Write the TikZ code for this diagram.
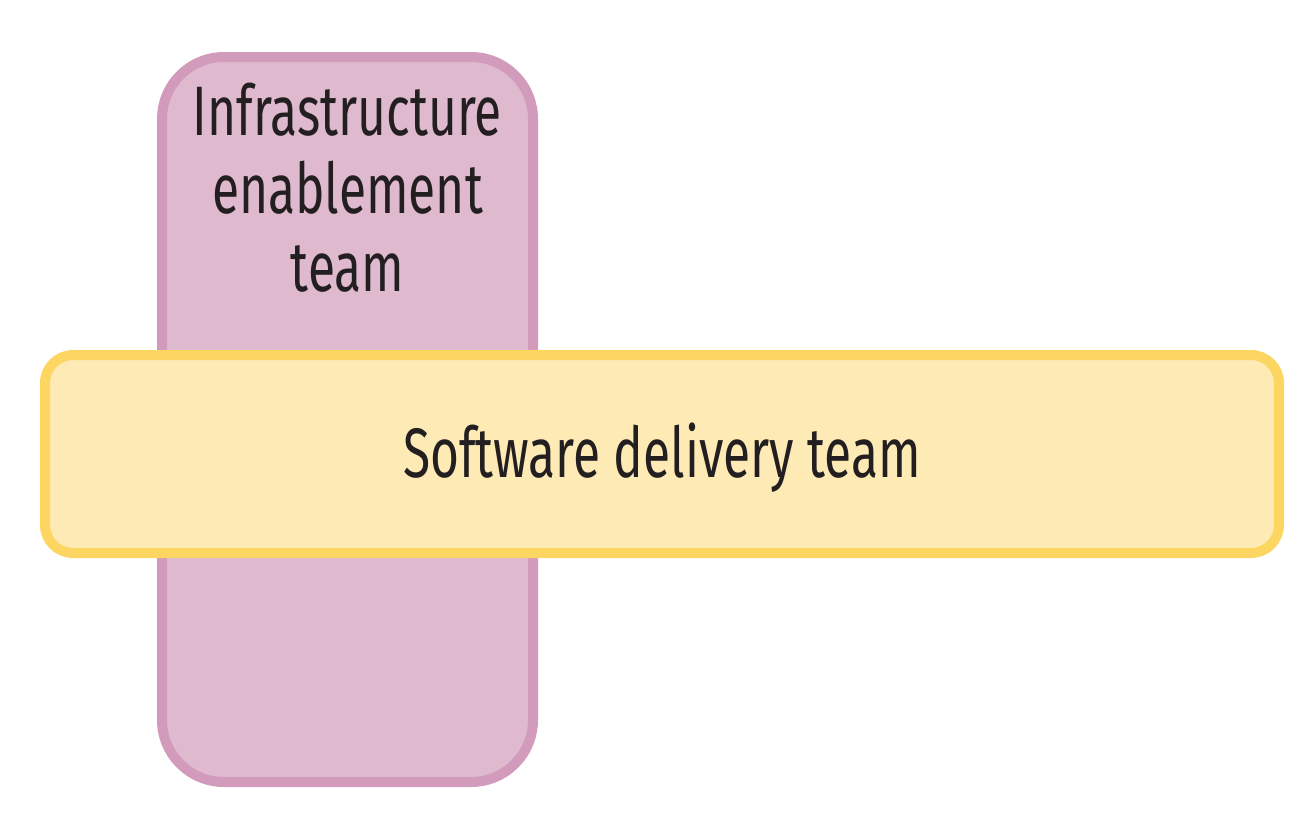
\documentclass[tikz,border=0pt]{standalone}
\usepackage{fontspec}
\setmainfont{Fira Sans}[FakeStretch=0.71]
\usetikzlibrary{positioning}

\definecolor{infrafill}{HTML}{DFBACF}
\definecolor{infraline}{HTML}{D29BBC}
\definecolor{swfill}{HTML}{FDEAB5}
\definecolor{swline}{HTML}{FCD660}
\definecolor{textdark}{HTML}{231F20}

\begin{document}
\begin{tikzpicture}[x=0.5pt,y=-0.5pt]
\tikzstyle{team}=[draw,line width=5pt,inner sep=0pt]
\tikzstyle{enabling team}=[team,fill=infrafill,draw=infraline,rounded corners=31pt]
\tikzstyle{delivery team}=[team,fill=swfill,draw=swline,rounded corners=14pt]
\tikzstyle{annot}=[text=textdark,font=\fontsize{35}{39}\selectfont,align=center]

\useasboundingbox (0,0) rectangle (1311,821);

% Draw the enabling team box
\node[enabling team,minimum width=185.5pt,minimum height=362.5pt] (infra) at (347.5,419.5) {};
\node[annot,below=12pt of infra.north] (infra-label) {Infrastructure\\enablement\\team};

% Draw the delivery team box on top
\node[delivery team,minimum width=617pt,minimum height=99pt] (sw) at (662,454) {};
\node[annot] (sw-label) at ([yshift=-2pt]sw.center) {Software delivery team};
\end{tikzpicture}
\end{document}
